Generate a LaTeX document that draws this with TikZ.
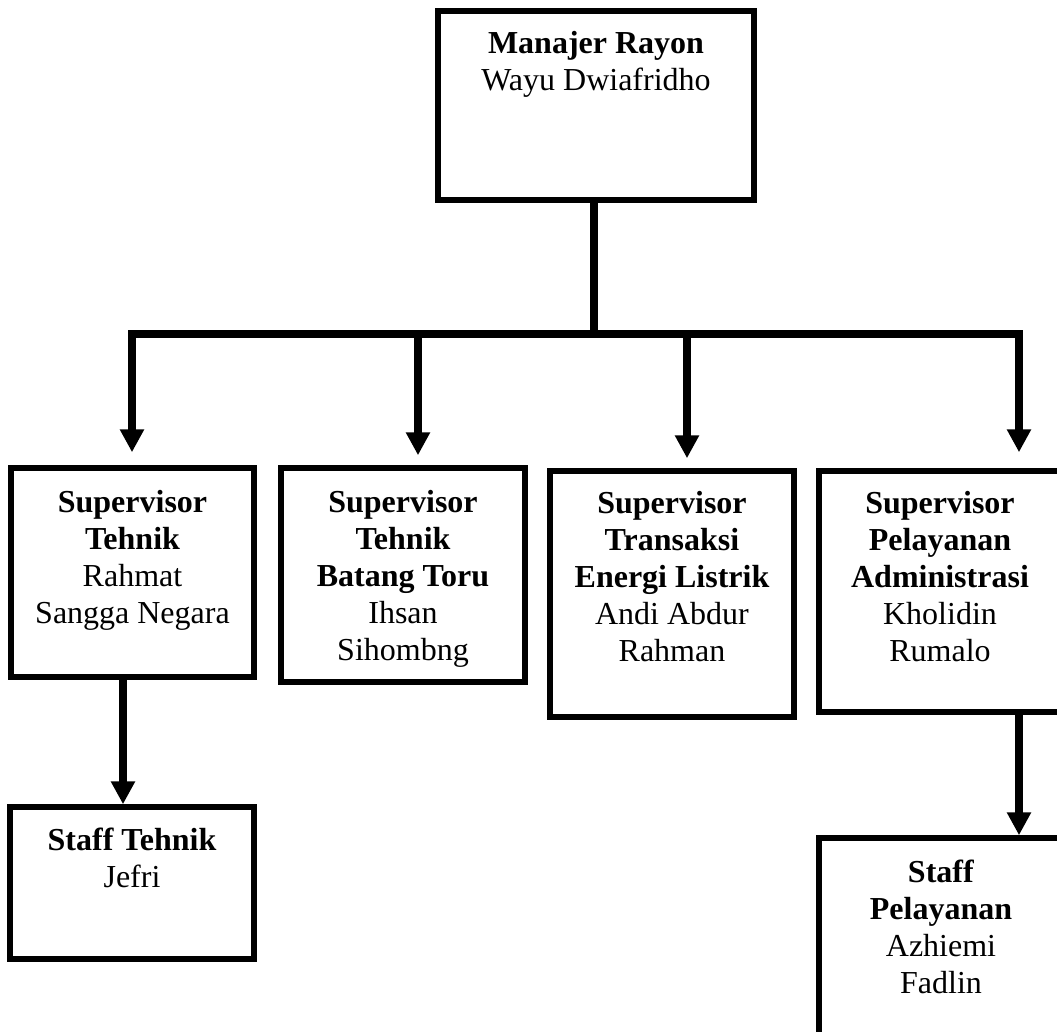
\documentclass[tikz,border=0pt]{standalone}
\usepackage{fontspec}
\setmainfont{Liberation Serif}
\usetikzlibrary{arrows.meta}
\begin{document}
\begin{tikzpicture}[x=1pt,y=-1pt,
  box/.style={draw, line width=5.5pt, rectangle, inner sep=0pt},
  txt/.style={anchor=north, align=center, inner sep=0pt, font=\fontsize{32}{37}\selectfont},
  conn/.style={line width=7.5pt},
  arr/.style={line width=7.5pt, -{Triangle[width=23pt,length=23pt]}}]
\useasboundingbox (0,0) rectangle (1057,1032);

% boxes
\node[box, minimum width=316pt, minimum height=189pt] (top) at (596,105.5) {};
\node[txt] (topt) at (596,31) {\textbf{Manajer Rayon}\\Wayu Dwiafridho};

\node[box, minimum width=243pt, minimum height=209pt] (b1) at (132.5,572.5) {};
\node[txt] (b1t) at (132.5,490) {\textbf{Supervisor}\\\textbf{Tehnik}\\Rahmat\\Sangga Negara};

\node[box, minimum width=244pt, minimum height=214pt] (b2) at (403,575) {};
\node[txt] (b2t) at (403,490) {\textbf{Supervisor}\\\textbf{Tehnik}\\\textbf{Batang Toru}\\Ihsan\\Sihombng};

\node[box, minimum width=244pt, minimum height=246pt] (b3) at (672,594) {};
\node[txt] (b3t) at (672,491) {\textbf{Supervisor}\\\textbf{Transaksi}\\\textbf{Energi Listrik}\\Andi Abdur\\Rahman};

\node[box, minimum width=242pt, minimum height=241pt] (b4) at (940,591.5) {};
\node[txt] (b4t) at (940,491) {\textbf{Supervisor}\\\textbf{Pelayanan}\\\textbf{Administrasi}\\Kholidin\\Rumalo};

\node[box, minimum width=244pt, minimum height=152pt] (st) at (132,883) {};
\node[txt] (stt) at (132,828) {\textbf{Staff Tehnik}\\Jefri};

\node[box, minimum width=244pt, minimum height=250pt] (sp) at (941,963) {};
\node[txt] (spt) at (941,860) {\textbf{Staff}\\\textbf{Pelayanan}\\Azhiemi\\Fadlin};

% connectors
\coordinate (j0) at (594,334);
\coordinate (j1) at (132,334);
\coordinate (j2) at (418,334);
\coordinate (j3) at (687,334);
\coordinate (j4) at (1019,334);

\draw[conn] (top.south -| j0) -- (j0);
\draw[conn, line cap=rect] (j1) -- (j4);
\draw[arr, shorten >=13pt] (j1) -- (j1 |- b1.north);
\draw[arr, shorten >=10pt] (j2) -- (j2 |- b2.north);
\draw[arr, shorten >=10pt] (j3) -- (j3 |- b3.north);
\draw[arr, shorten >=16pt] (j4) -- (j4 |- b4.north);

\draw[arr] ([xshift=-9.5pt]b1.south) -- ([xshift=-9.5pt]b1.south |- st.north);
\draw[arr] ([xshift=79pt]b4.south) -- ([xshift=79pt]b4.south |- sp.north);
\end{tikzpicture}
\end{document}
